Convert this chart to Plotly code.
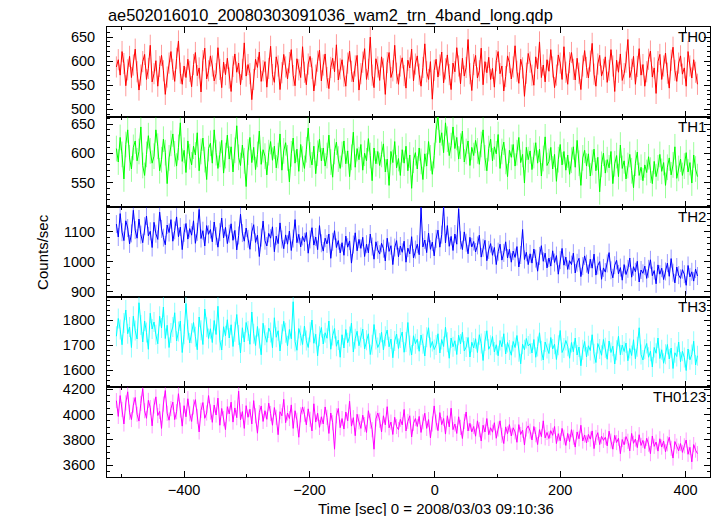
import plotly.graph_objects as go

# ---------------- data ----------------
t_start = -508
bin_sec = 3

th0 = [588, 603, 571, 620, 595, 549, 582, 610, 566, 592,
       625, 578, 540, 571, 599, 614, 562, 585, 633, 557,
       574, 601, 548, 589, 612, 580, 531, 567, 596, 620,
       583, 558, 606, 642, 575, 552, 590, 566, 604, 579,
       547, 593, 618, 570, 586, 536, 601, 627, 563, 580,
       611, 590, 559, 574, 628, 583, 545, 598, 572, 606,
       565, 537, 589, 615, 577, 596, 551, 583, 638, 569,
       593, 574, 520, 562, 604, 587, 619, 558, 580, 599,
       546, 585, 631, 572, 556, 609, 590, 541, 576, 614,
       588, 563, 597, 624, 570, 549, 605, 582, 566, 630,
       577, 551, 594, 610, 585, 538, 571, 600, 623, 559,
       592, 615, 566, 543, 587, 606, 578, 634, 561, 584,
       603, 569, 548, 596, 621, 579, 557, 590, 612, 540,
       574, 598, 626, 562, 583, 650, 571, 545, 605, 588,
       560, 609, 584, 531, 597, 618, 566, 580, 633, 575,
       552, 590, 607, 570, 544, 602, 586, 625, 559, 594,
       611, 573, 548, 587, 636, 578, 562, 599, 521, 581,
       604, 567, 592, 619, 555, 584, 613, 572, 541, 596,
       578, 628, 590, 553, 606, 569, 587, 645, 574, 539,
       593, 612, 565, 580, 627, 551, 599, 576, 608, 562,
       585, 546, 601, 620, 574, 590, 538, 568, 611, 597,
       563, 588, 632, 579, 554, 604, 586, 527, 575, 616,
       598, 571, 550, 609, 584, 640, 566, 592, 557, 603,
       579, 624, 588, 545, 571, 613, 596, 562, 630, 577,
       552, 597, 618, 583, 561, 606, 575, 541, 590, 622,
       587, 565, 600, 637, 573, 548, 594, 612, 569, 583,
       609, 556, 581, 624, 590, 537, 602, 577, 615, 560,
       574, 598, 645, 566, 583, 610, 552, 589, 626, 571,
       593, 548, 578, 604, 621, 567, 586, 533, 599, 614,
       562, 590, 617, 575, 544, 602, 629, 581, 558, 596,
       611, 573, 586, 548, 620, 590, 565, 603, 577, 552]

th1 = [608, 585, 627, 598, 556, 615, 640, 592, 573, 610,
       621, 587, 603, 645, 579, 562, 598, 630, 604, 583,
       595, 640, 612, 570, 589, 624, 601, 548, 592, 617,
       633, 599, 578, 610, 652, 586, 605, 567, 621, 594,
       580, 612, 597, 635, 570, 603, 626, 589, 555, 608,
       617, 583, 640, 601, 574, 598, 622, 566, 596, 631,
       590, 611, 568, 605, 647, 593, 579, 614, 587, 543,
       602, 627, 584, 610, 572, 598, 638, 581, 606, 595,
       563, 601, 620, 588, 612, 575, 596, 633, 571, 604,
       618, 592, 551, 599, 626, 583, 607, 569, 615, 590,
       574, 606, 643, 597, 580, 612, 565, 600, 624, 587,
       609, 578, 596, 631, 585, 559, 603, 619, 590, 574,
       598, 621, 582, 604, 560, 593, 636, 576, 608, 589,
       615, 571, 600, 587, 625, 596, 553, 609, 582, 603,
       579, 598, 616, 568, 590, 545, 603, 584, 620, 575,
       591, 562, 606, 583, 612, 570, 597, 540, 588, 601,
       573, 609, 586, 555, 599, 578, 620, 592, 564, 596,
       640, 662, 618, 635, 601, 652, 624, 596, 613, 645,
       608, 627, 590, 612, 638, 585, 603, 621, 579, 610,
       596, 622, 604, 581, 615, 640, 592, 570, 608, 624,
       587, 611, 599, 632, 574, 603, 619, 586, 560, 605,
       593, 615, 578, 601, 627, 584, 598, 549, 610, 589,
       604, 572, 596, 618, 583, 607, 561, 591, 628, 579,
       586, 610, 573, 598, 552, 589, 615, 580, 603, 571,
       597, 564, 588, 611, 576, 622, 583, 545, 592, 605,
       578, 599, 561, 584, 607, 570, 593, 534, 581, 600,
       566, 589, 575, 603, 548, 582, 596, 560, 614, 574,
       587, 556, 579, 598, 570, 541, 583, 602, 562, 576,
       553, 580, 567, 594, 571, 548, 586, 560, 575, 598,
       569, 584, 545, 576, 592, 563, 580, 611, 557, 574,
       590, 562, 578, 601, 568, 584, 549, 597, 573, 560]

th2 = [1125, 1082, 1160, 1098, 1070, 1136, 1112, 1059, 1094, 1171,
       1105, 1078, 1142, 1090, 1063, 1118, 1152, 1086, 1101, 1047,
       1131, 1093, 1074, 1165, 1109, 1080, 1056, 1122, 1097, 1140,
       1068, 1104, 1149, 1083, 1115, 1040, 1096, 1127, 1075, 1110,
       1088, 1136, 1061, 1099, 1174, 1077, 1103, 1052, 1120, 1091,
       1107, 1066, 1132, 1085, 1048, 1098, 1145, 1079, 1114, 1060,
       1093, 1126, 1071, 1104, 1039, 1087, 1158, 1095, 1068, 1112,
       1076, 1041, 1099, 1123, 1064, 1088, 1017, 1080, 1135, 1070,
       1052, 1094, 1078, 1116, 1033, 1085, 1060, 1129, 1074, 1043,
       1089, 1058, 1102, 1037, 1077, 1140, 1063, 1091, 1049, 1084,
       1066, 1097, 1028, 1074, 1113, 1055, 1082, 1040, 1120, 1061,
       1035, 1078, 1059, 1092, 1011, 1066, 1103, 1047, 1070, 1029,
       1063, 1021, 1085, 1048, 1069, 995, 1057, 1096, 1036, 1074,
       1044, 1081, 1017, 1058, 1029, 1092, 1050, 1008, 1066, 1039,
       1025, 1061, 1043, 1002, 1078, 1034, 1053, 990, 1047, 1070,
       1016, 1052, 1031, 1068, 998, 1045, 1026, 1083, 1012, 1040,
       1058, 1023, 1180, 1049, 1072, 1030, 1095, 1041, 1065, 1019,
       1076, 1105, 1048, 1090, 1183, 1062, 1120, 1051, 1084, 1037,
       1092, 1058, 1176, 1071, 1040, 1099, 1063, 1026, 1081, 1049,
       1067, 1032, 1054, 1088, 1015, 1046, 1071, 1003, 1039, 1060,
       1021, 1047, 990, 1033, 1058, 1005, 1029, 1066, 1012, 1041,
       998, 1035, 1014, 1050, 982, 1022, 1107, 1007, 1031, 990,
       1026, 995, 1042, 1010, 968, 1019, 1053, 1001, 1028, 979,
       1012, 985, 1036, 997, 1020, 958, 1005, 1044, 988, 1015,
       974, 1003, 990, 1028, 962, 996, 1011, 950, 985, 1019,
       993, 960, 1008, 978, 1025, 955, 987, 1000, 941, 979,
       965, 994, 1030, 971, 946, 988, 1004, 959, 980, 938,
       990, 957, 976, 1012, 948, 983, 966, 1001, 932, 972,
       961, 985, 944, 976, 1006, 953, 970, 926, 989, 958,
       978, 940, 967, 995, 951, 1010, 963, 929, 982, 955,
       944, 973, 958, 921, 987, 949, 966, 935, 975, 952]

th3 = [1735, 1806, 1762, 1701, 1788, 1840, 1745, 1772, 1690, 1815,
       1758, 1724, 1869, 1780, 1712, 1796, 1750, 1683, 1827, 1764,
       1792, 1741, 1705, 1815, 1768, 1852, 1726, 1779, 1690, 1748,
       1772, 1829, 1716, 1754, 1796, 1670, 1743, 1866, 1761, 1708,
       1747, 1790, 1733, 1681, 1812, 1759, 1702, 1844, 1771, 1726,
       1765, 1710, 1798, 1742, 1855, 1719, 1680, 1773, 1737, 1801,
       1728, 1781, 1694, 1753, 1822, 1740, 1668, 1769, 1712, 1790,
       1756, 1703, 1832, 1745, 1698, 1774, 1726, 1661, 1787, 1739,
       1711, 1768, 1750, 1689, 1809, 1731, 1757, 1676, 1743, 1795,
       1749, 1697, 1762, 1725, 1873, 1714, 1679, 1766, 1738, 1702,
       1776, 1718, 1690, 1751, 1800, 1707, 1743, 1657, 1735, 1770,
       1704, 1749, 1727, 1796, 1683, 1738, 1766, 1695, 1720, 1651,
       1741, 1688, 1762, 1709, 1734, 1788, 1672, 1725, 1755, 1697,
       1730, 1764, 1684, 1719, 1745, 1662, 1701, 1782, 1722, 1690,
       1708, 1751, 1680, 1735, 1760, 1693, 1724, 1649, 1716, 1744,
       1686, 1728, 1752, 1671, 1712, 1790, 1698, 1660, 1737, 1705,
       1723, 1675, 1740, 1705, 1656, 1731, 1769, 1690, 1714, 1682,
       1700, 1745, 1668, 1722, 1694, 1771, 1711, 1647, 1728, 1693,
       1717, 1662, 1739, 1704, 1751, 1676, 1692, 1730, 1652, 1711,
       1688, 1725, 1670, 1741, 1706, 1638, 1716, 1757, 1683, 1699,
       1734, 1672, 1701, 1657, 1718, 1693, 1745, 1664, 1710, 1680,
       1659, 1714, 1690, 1738, 1673, 1625, 1703, 1681, 1726, 1696,
       1705, 1668, 1722, 1651, 1694, 1749, 1677, 1640, 1712, 1686,
       1666, 1730, 1684, 1703, 1642, 1699, 1758, 1670, 1688, 1718,
       1695, 1647, 1710, 1673, 1728, 1660, 1692, 1617, 1681, 1714,
       1652, 1697, 1678, 1741, 1665, 1630, 1706, 1684, 1659, 1722,
       1689, 1643, 1716, 1670, 1695, 1624, 1679, 1735, 1661, 1700,
       1674, 1708, 1637, 1686, 1658, 1721, 1645, 1693, 1769, 1662,
       1640, 1683, 1706, 1651, 1675, 1612, 1690, 1667, 1728, 1646,
       1681, 1627, 1663, 1702, 1644, 1688, 1606, 1669, 1654, 1712,
       1633, 1675, 1650, 1598, 1684, 1641, 1662, 1715, 1620, 1657]

th0123 = [4110, 3985, 4150, 4040, 3925, 4092, 4180, 4018, 3960, 4075,
          4135, 4002, 3948, 4088, 4205, 4030, 3970, 4112, 4055, 3910,
          4068, 4140, 3992, 4025, 3890, 4083, 4190, 4010, 3955, 4047,
          4098, 3960, 4022, 4165, 4035, 3908, 4070, 3982, 4125, 4006,
          3945, 4060, 4118, 3985, 3862, 4033, 4095, 3970, 4012, 4150,
          4020, 3938, 4075, 3996, 4130, 3915, 4048, 3967, 3880, 4062,
          4005, 4098, 3940, 4052, 3975, 4185, 3958, 4023, 3890, 4070,
          3978, 4042, 3925, 4110, 3990, 3852, 4015, 4068, 3945, 4030,
          3962, 4090, 4008, 3915, 4055, 3978, 3840, 4022, 3990, 4120,
          3935, 4012, 3968, 4076, 3890, 4030, 3955, 3820, 3998, 4060,
          4002, 3918, 4045, 3962, 3870, 4085, 3940, 4010, 3898, 3982,
          3925, 4060, 3978, 3850, 4012, 3935, 3725, 3990, 4048, 3896,
          3968, 3885, 4020, 3950, 4105, 3908, 3975, 3832, 4002, 3942,
          3890, 3995, 3920, 3858, 4030, 3948, 3880, 3725, 3965, 4012,
          3955, 3862, 3990, 3918, 4062, 3895, 3940, 3842, 3978, 3905,
          3880, 3962, 3918, 4040, 3870, 3945, 3990, 3822, 3930, 3968,
          3905, 3985, 3858, 3942, 4010, 3890, 3960, 3815, 3925, 4068,
          3940, 3872, 4015, 3920, 3968, 3845, 3990, 3902, 4050, 3880,
          3925, 3850, 3982, 3898, 3810, 3945, 4020, 3870, 3930, 3862,
          3905, 3828, 3950, 3880, 3790, 3915, 3862, 3968, 3840, 3895,
          3860, 3935, 3812, 3885, 3950, 3835, 3770, 3902, 3848, 3920,
          3830, 3895, 3862, 3780, 3920, 3842, 3876, 3758, 3885, 3910,
          3868, 3798, 3905, 3840, 3762, 3880, 3825, 3950, 3815, 3858,
          3810, 3872, 3835, 3905, 3770, 3848, 3792, 3890, 3820, 3755,
          3850, 3785, 3880, 3820, 3742, 3862, 3808, 3915, 3790, 3838,
          3775, 3842, 3805, 3870, 3730, 3818, 3856, 3762, 3828, 3795,
          3820, 3752, 3868, 3790, 3725, 3835, 3778, 3812, 3690, 3802,
          3760, 3825, 3788, 3712, 3850, 3772, 3806, 3738, 3840, 3755,
          3795, 3730, 3812, 3765, 3690, 3830, 3748, 3782, 3710, 3808,
          3742, 3790, 3705, 3768, 3820, 3732, 3655, 3786, 3750, 3712,
          3770, 3700, 3752, 3798, 3685, 3740, 3625, 3762, 3718, 3690]

labels = ["TH0", "TH1", "TH2", "TH3", "TH0123"]
series = [th0, th1, th2, th3, th0123]
errors = [22, 22, 30, 40, 60]
colors = ["#ff0000", "#00ff00", "#0000ff", "#00ffff", "#ff00ff"]
err_colors = ["rgba(255,0,0,0.4)", "rgba(0,255,0,0.4)", "rgba(0,0,255,0.4)",
              "rgba(0,255,255,0.45)", "rgba(255,0,255,0.4)"]
y_ranges = [[484, 671], [508, 662], [882, 1182], [1532, 1892], [3505, 4218]]
y_ticks = [[500, 550, 600, 650], [550, 600, 650], [900, 1000, 1100],
           [1600, 1700, 1800], [3600, 3800, 4000, 4200]]
y_minor = [10, 10, 20, 20, 50]
x_ticks = [-400, -200, 0, 200, 400]

title_text = "ae502016010_20080303091036_wam2_trn_4band_long.qdp"
x_title = "Time [sec] 0 = 2008/03/03 09:10:36"
y_title = "Counts/sec"

time = [t_start + bin_sec * i for i in range(len(th0))]

# ---------------- figure ----------------
FONT = "Liberation Sans, Arial, sans-serif"
fig = go.Figure()
n = len(series)
layout = {}
for k in range(n):
    idx = "" if k == 0 else str(k + 1)
    fig.add_trace(go.Scatter(
        x=time, y=series[k], mode="lines",
        line=dict(color=colors[k], width=1),
        error_y=dict(type="constant", value=errors[k], color=err_colors[k],
                     thickness=1, width=0),
        xaxis="x" + idx, yaxis="y" + idx, showlegend=False,
        hoverinfo="skip"))
    top = 1 - k / n
    bot = 1 - (k + 1) / n
    layout["xaxis" + idx] = dict(
        domain=[0, 1], anchor="y" + idx, range=[-523, 439],
        matches=None if k == 0 else "x",
        tickvals=x_ticks, showticklabels=(k == n - 1),
        ticks="inside", ticklen=6, tickwidth=1, tickcolor="black",
        minor=dict(dtick=100, tick0=0, ticks="inside", ticklen=3, tickcolor="black"),
        showline=True, linecolor="black", linewidth=1, mirror="allticks",
        showgrid=False, zeroline=False,
        tickfont=dict(family=FONT, size=14.5, color="black"))
    layout["yaxis" + idx] = dict(
        domain=[bot, top], anchor="x" + idx, range=y_ranges[k],
        tickvals=y_ticks[k], ticks="inside", ticklen=6, tickwidth=1, tickcolor="black",
        minor=dict(dtick=y_minor[k], ticks="inside", ticklen=3, tickcolor="black"),
        showline=True, linecolor="black", linewidth=1, mirror="allticks",
        showgrid=False, zeroline=False, ticklabelstandoff=8,
        tickfont=dict(family=FONT, size=14.5, color="black"))

annotations = []
for k in range(n):
    annotations.append(dict(
        text=labels[k], xref="paper", yref="paper", x=0.997, y=1 - k / n,
        xanchor="right", yanchor="top", yshift=1, showarrow=False,
        font=dict(family=FONT, size=15, color="black")))
annotations.append(dict(
    text=title_text, xref="paper", yref="paper", x=-0.002, y=1,
    xanchor="left", yanchor="bottom", yshift=0, showarrow=False,
    font=dict(family=FONT, size=16.4, color="black")))
annotations.append(dict(
    text=y_title, xref="paper", yref="paper", x=-0.108, y=0.5,
    xanchor="center", yanchor="middle", textangle=-90, showarrow=False,
    font=dict(family=FONT, size=15, color="black")))
annotations.append(dict(
    text=x_title, xref="paper", yref="paper", x=0.546, y=-0.069,
    xanchor="center", yanchor="middle", showarrow=False,
    font=dict(family=FONT, size=15, color="black")))

fig.update_layout(
    width=717, height=516,
    margin=dict(l=107, r=7, t=27, b=39),
    paper_bgcolor="white", plot_bgcolor="white",
    annotations=annotations, showlegend=False,
    **layout)

fig.write_html("out.html",
               config={"displayModeBar": False},
               post_script="document.body.style.margin='0';"
                           "document.body.style.overflow='hidden';")
